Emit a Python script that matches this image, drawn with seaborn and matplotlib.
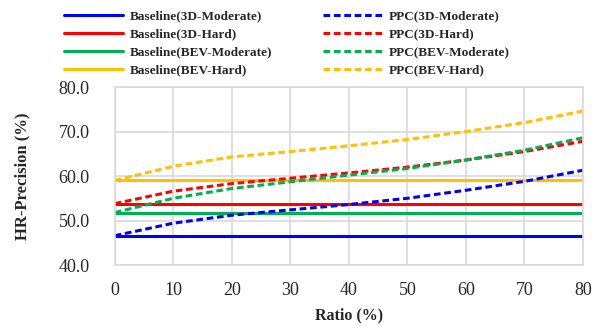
import numpy as np
import pandas as pd
import matplotlib
matplotlib.use('Agg')
import matplotlib.pyplot as plt
import seaborn as sns

# Данные
ratio = [0, 10, 20, 30, 40, 50, 60, 70, 80]

base_3d_mod = 46.6
base_3d_hard = 53.8
base_bev_mod = 51.8
base_bev_hard = 59.0

ppc_3d_mod = [46.6, 49.4, 51.2, 52.4, 53.6, 55.0, 56.8, 58.8, 61.3]
ppc_3d_hard = [53.8, 56.6, 58.3, 59.5, 60.7, 62.0, 63.6, 65.5, 67.8]
ppc_bev_mod = [51.8, 55.0, 57.2, 58.7, 60.2, 61.7, 63.6, 65.8, 68.6]
ppc_bev_hard = [59.0, 62.2, 64.3, 65.5, 66.8, 68.2, 70.0, 72.0, 74.6]

names = ['3D-Moderate', '3D-Hard', 'BEV-Moderate', 'BEV-Hard']
colors = ['#0000FF', '#FF0000', '#00B050', '#FFC000']
baselines = [base_3d_mod, base_3d_hard, base_bev_mod, base_bev_hard]
ppcs = [ppc_3d_mod, ppc_3d_hard, ppc_bev_mod, ppc_bev_hard]

sns.set_style("whitegrid")
plt.rcParams['font.family'] = ['Liberation Serif', 'DejaVu Serif']

fig = plt.figure(figsize=(6.04, 3.26), dpi=100)
ax = fig.add_axes([0.19, 0.187, 0.775, 0.546])

for name, c, b in zip(names, colors, baselines):
    sns.lineplot(x=ratio, y=[b] * len(ratio), color=c, linewidth=2.2,
                 label=f'Baseline({name})', ax=ax)
for name, c, p in zip(names, colors, ppcs):
    sns.lineplot(x=ratio, y=p, color=c, linewidth=2.2, linestyle=(0, (2.2, 1.2)),
                 label=f'PPC({name})', ax=ax)

ax.set_xlim(0, 80)
ax.set_ylim(40, 80)
ax.set_xticks(range(0, 81, 10))
ax.set_yticks(range(40, 81, 10))
ax.set_yticklabels([f'{v:.1f}' for v in range(40, 81, 10)])
ax.grid(True, color='#d9d9d9', linewidth=1.2)
for s in ax.spines.values():
    s.set_color('#d9d9d9')
    s.set_linewidth(1.2)
ax.tick_params(axis='both', labelsize=13, length=0)
ax.tick_params(axis='x', pad=12)
ax.tick_params(axis='y', pad=18)
ax.set_xlabel('Ratio (%)', fontsize=11.5, fontweight='bold', labelpad=6)
ax.set_ylabel('HR-Precision (%)', fontsize=12, fontweight='bold', labelpad=20)

handles, labels = ax.get_legend_handles_labels()
ax.get_legend().remove()
fig.legend(handles, labels, ncol=2, loc='upper center',
           bbox_to_anchor=(0.475, 1.006), frameon=False,
           prop={'size': 9.5, 'weight': 'bold'},
           handlelength=4.5, handletextpad=0.5, columnspacing=3.85,
           labelspacing=0.45)

plt.savefig('out.png', dpi=100)
